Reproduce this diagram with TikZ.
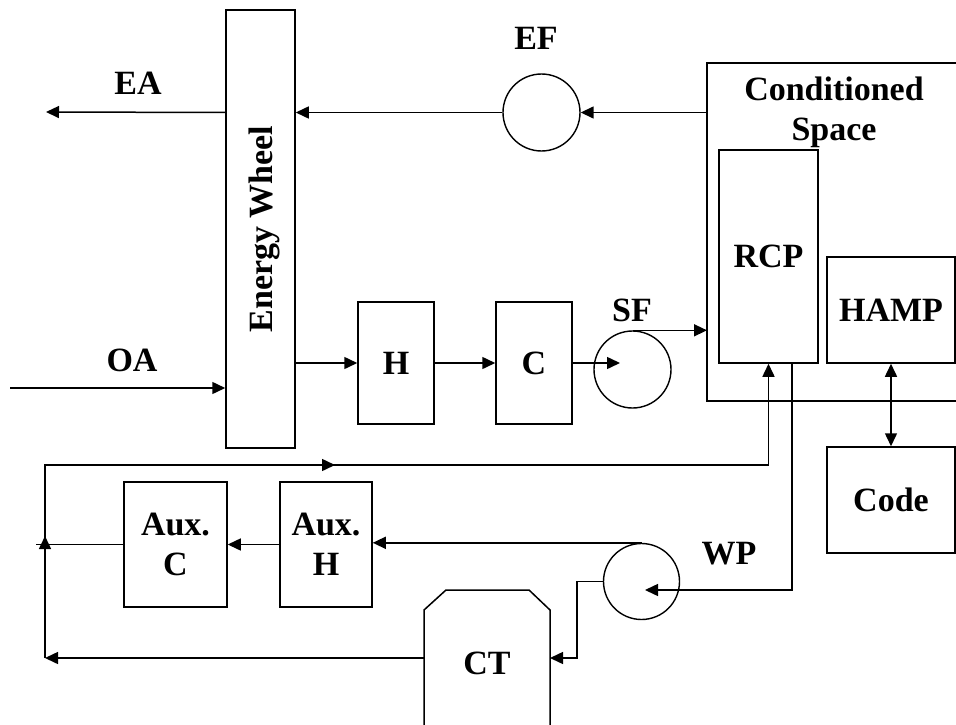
\documentclass[tikz,border=0pt]{standalone}
\usepackage{fontspec}
\setmainfont{Liberation Serif}
\usetikzlibrary{arrows.meta}
\begin{document}
\begin{tikzpicture}[x=1pt,y=-1pt,
  line width=1.5pt,
  lbl/.style={font=\fontsize{34}{40}\selectfont\bfseries, inner sep=0pt, align=center},
  box/.style={draw, line width=1.5pt, inner sep=0pt, font=\fontsize{34}{40}\selectfont\bfseries, align=center},
  fan/.style={draw, circle, line width=1.4pt, inner sep=0pt},
  arr/.style={-{Triangle[length=13pt,width=12pt]}},
  darr/.style={{Triangle[length=13pt,width=12pt]}-{Triangle[length=13pt,width=12pt]}}]
\useasboundingbox (0,0) rectangle (956,725);

% boxes
\node[box, minimum width=69pt, minimum height=438pt] (ew) at (260.5,229) {};
\node[lbl, rotate=90, anchor=base] (ewl) at (272,229) {Energy Wheel};
\node[fan, minimum size=77pt] (ef) at (541.5,112.5) {};
\node[fan, minimum size=77pt] (sf) at (632.5,369.5) {};
\node[fan, minimum size=76pt] (wp) at (641.5,581.5) {};
\node[box, minimum width=76pt, minimum height=122pt] (h) at (396,363) {H};
\node[box, minimum width=76pt, minimum height=122pt] (c) at (534,363) {C};
\node[box, minimum width=99pt, minimum height=213pt] (rcp) at (768.5,256.5) {RCP};
\node[box, minimum width=128pt, minimum height=106pt] (hamp) at (891,310) {HAMP};
\node[box, minimum width=128pt, minimum height=106pt] (code) at (891,500) {Code};
\node[box, minimum width=103pt, minimum height=125pt] (auxc) at (175.5,544.5) {Aux.\\C};
\node[box, minimum width=92pt, minimum height=125pt] (auxh) at (326,544.5) {Aux.\\H};

% conditioned space (open to the right)
\draw (956,63) -- (707,63) -- (707,401) -- (956,401);
\coordinate (csw) at (707,232);
\node[lbl] (csl) at (834,112) {Conditioned\\Space};

% cooling tower
\draw (424,725) -- (424,610) -- (446,590) -- (529,590) -- (550,610) -- (550,725);
\coordinate (ctL) at (424,658);
\coordinate (ctR) at (550,658);
\node[lbl] (ctl) at (487,663.5) {CT};

% labels
\node[lbl] (eal) at (138,83.5) {EA};
\node[lbl] (oal) at (132,360) {OA};
\node[lbl] (efl) at (536,38) {EF};
\node[lbl] (sfl) at (632,310) {SF};
\node[lbl] (wpl) at (729,553.5) {WP};

% coordinates
\coordinate (ea) at (46,112);
\coordinate (oa) at (10,388);
\coordinate (sfin) at (620,363);
\coordinate (rcpo) at (792,363);
\coordinate (rcpo2) at (792,590);
\coordinate (wpin) at (645,590);
\coordinate (wpo) at (577,581.5);
\coordinate (lpb) at (45,658);
\coordinate (lpt) at (45,465);
\coordinate (acl) at (36,544.5);
\coordinate (m1a) at (45,560);
\coordinate (m1b) at (45,536);
\coordinate (m2a) at (300,465);
\coordinate (m2b) at (335,465);

% air side
\draw[arr] (ef.west -| ew.west) -- (ea);
\draw[arr] (oa) -- (oa -| ew.west);
\draw[arr] (ef.east -| csw) -- (ef.east);
\draw[arr] (ef.west) -- (ef.west -| ew.east);
\draw[arr] (h.west -| ew.east) -- (h.west);
\draw[arr] (h.east) -- (c.west);
\draw[arr] (c.east) -- (sfin);
\draw[arr] (sf.north) -- (sf.north -| csw);
\draw[darr] (hamp.south) -- (code.north);

% water side
\draw[arr] (rcpo) -- (rcpo2) -- (wpin);
\draw[arr] (wp.north) -- (wp.north -| auxh.east);
\draw[arr] (auxh.west) -- (auxc.east);
\draw (auxc.west) -- (acl);
\draw[arr] (wp.west) -- (wpo) |- (ctR);
\draw[arr] (ctL) -- (lpb);
\draw[arr] (lpb) -- (lpt) -| (rcp.south);
\draw[arr] (m1a) -- (m1b);
\draw[arr] (m2a) -- (m2b);
\end{tikzpicture}
\end{document}
